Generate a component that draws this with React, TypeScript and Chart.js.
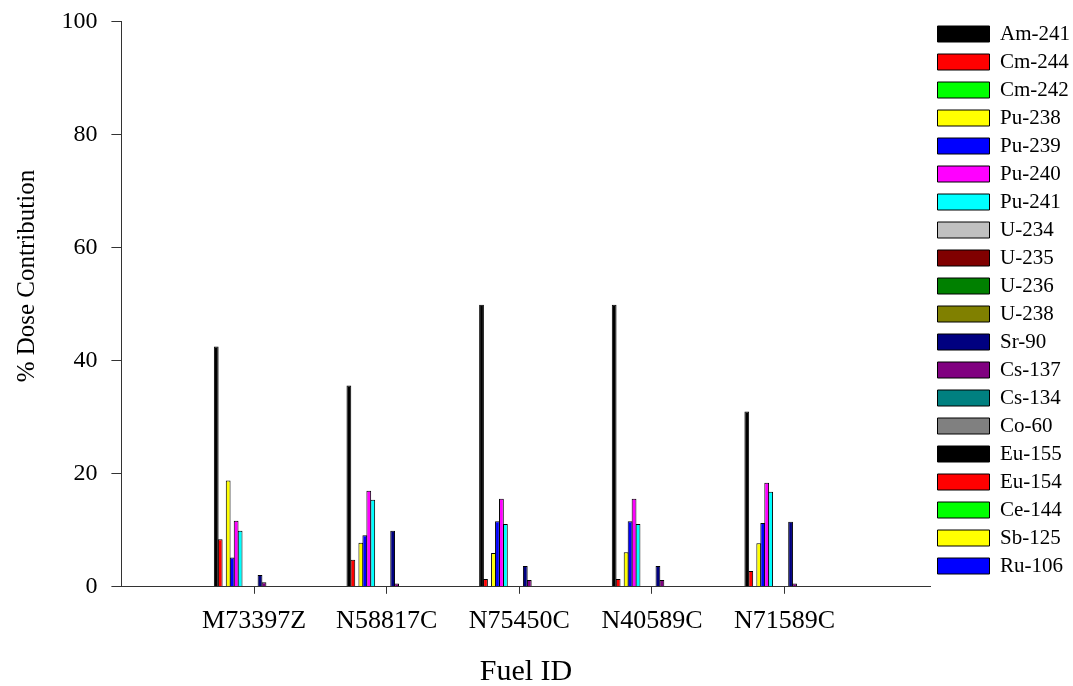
import React, { useEffect, useRef } from "react";
import { Chart, registerables } from "chart.js";

Chart.register(...registerables);

const fuelIds = ["M73397Z", "N58817C", "N75450C", "N40589C", "N71589C"];

const nuclides = [
  "Am-241", "Cm-244", "Cm-242", "Pu-238", "Pu-239", "Pu-240", "Pu-241",
  "U-234", "U-235", "U-236", "U-238", "Sr-90", "Cs-137", "Cs-134",
  "Co-60", "Eu-155", "Eu-154", "Ce-144", "Sb-125", "Ru-106",
];

const colors = [
  "#000000", "#FF0000", "#00FF00", "#FFFF00", "#0000FF", "#FF00FF", "#00FFFF",
  "#C0C0C0", "#800000", "#008000", "#808000", "#000080", "#800080", "#008080",
  "#808080", "#000000", "#FF0000", "#00FF00", "#FFFF00", "#0000FF",
];

const am241 = [42.5, 35.6, 49.9, 49.9, 31.0];
const cm244 = [8.4, 4.8, 1.4, 1.4, 2.8];
const cm242 = [0, 0, 0, 0, 0];
const pu238 = [18.8, 7.8, 6.0, 6.1, 7.7];
const pu239 = [5.2, 9.1, 11.6, 11.6, 11.3];
const pu240 = [11.7, 17.0, 15.6, 15.6, 18.4];
const pu241 = [9.9, 15.4, 11.1, 11.1, 16.8];
const u234 = [0, 0, 0, 0, 0];
const u235 = [0, 0, 0, 0, 0];
const u236 = [0, 0, 0, 0, 0];
const u238 = [0, 0, 0, 0, 0];
const sr90 = [2.1, 9.9, 3.7, 3.7, 11.5];
const cs137 = [0.8, 0.6, 1.2, 1.2, 0.6];
const cs134 = [0, 0, 0, 0, 0];
const co60 = [0, 0, 0, 0, 0];
const eu155 = [0, 0, 0, 0, 0];
const eu154 = [0, 0, 0, 0, 0];
const ce144 = [0, 0, 0, 0, 0];
const sb125 = [0, 0, 0, 0, 0];
const ru106 = [0, 0, 0, 0, 0];

const seriesValues = [
  am241, cm244, cm242, pu238, pu239, pu240, pu241, u234, u235, u236, u238,
  sr90, cs137, cs134, co60, eu155, eu154, ce144, sb125, ru106,
];

const yTicks = [0, 20, 40, 60, 80, 100];

const serif = "'Liberation Serif', 'Times New Roman', serif";

export default function App() {
  const ref = useRef<HTMLCanvasElement | null>(null);

  useEffect(() => {
    if (!ref.current) return;
    const datasets = nuclides.map((name, k) => ({
      label: name,
      data: seriesValues[k].map((v, i) => ({ x: i + 1, y: v })),
      backgroundColor: colors[k],
      borderColor: "#000000",
      borderWidth: 1,
      categoryPercentage: 0.6,
      barPercentage: 1.2,
    }));

    const chart = new Chart(ref.current, {
      type: "bar",
      data: { datasets },
      options: {
        animation: false,
        responsive: true,
        maintainAspectRatio: false,
        layout: { padding: { top: 16.5, right: -7, bottom: 0, left: 0 } },
        plugins: {
          tooltip: { enabled: false },
          legend: {
            position: "right",
            align: "start",
            labels: {
              boxWidth: 52,
              boxHeight: 16,
              padding: 7,
              color: "#000000",
              font: { family: serif, size: 21 },
            },
          },
        },
        scales: {
          x: {
            type: "linear",
            min: 0,
            max: 6.1,
            offset: false,
            afterBuildTicks: (scale: any) => {
              scale.ticks = fuelIds.map((_, i) => ({ value: i + 1 }));
            },
            ticks: {
              color: "#000000",
              padding: 12,
              font: { family: serif, size: 26 },
              callback: (v: any) => fuelIds[Number(v) - 1] ?? "",
              maxRotation: 0,
              autoSkip: false,
            },
            grid: {
              offset: false,
              drawOnChartArea: false,
              drawTicks: true,
              tickLength: 7,
              tickColor: "#333333",
            },
            border: { display: true, color: "#333333", width: 1 },
            title: {
              display: true,
              text: "Fuel ID",
              color: "#000000",
              font: { family: serif, size: 30, lineHeight: 0.9 },
              padding: { top: 10, bottom: 0 },
            },
          },
          y: {
            min: 0,
            max: 100,
            afterBuildTicks: (scale: any) => {
              scale.ticks = yTicks.map((v) => ({ value: v }));
            },
            ticks: {
              color: "#000000",
              padding: 14,
              font: { family: serif, size: 24, lineHeight: 0.64 },
            },
            grid: {
              drawOnChartArea: false,
              drawTicks: true,
              tickLength: 10,
              tickColor: "#333333",
            },
            border: { display: true, color: "#333333", width: 1 },
            title: {
              display: true,
              text: "         % Dose Contribution",
              color: "#000000",
              font: { family: serif, size: 25 },
              padding: { top: 12, bottom: 5.4 },
            },
          },
        },
      },
    });
    return () => chart.destroy();
  }, []);

  return (
    <div style={{ position: "fixed", left: 0, top: 0, width: 1073, height: 686, background: "#ffffff" }}>
      <canvas ref={ref} />
    </div>
  );
}
